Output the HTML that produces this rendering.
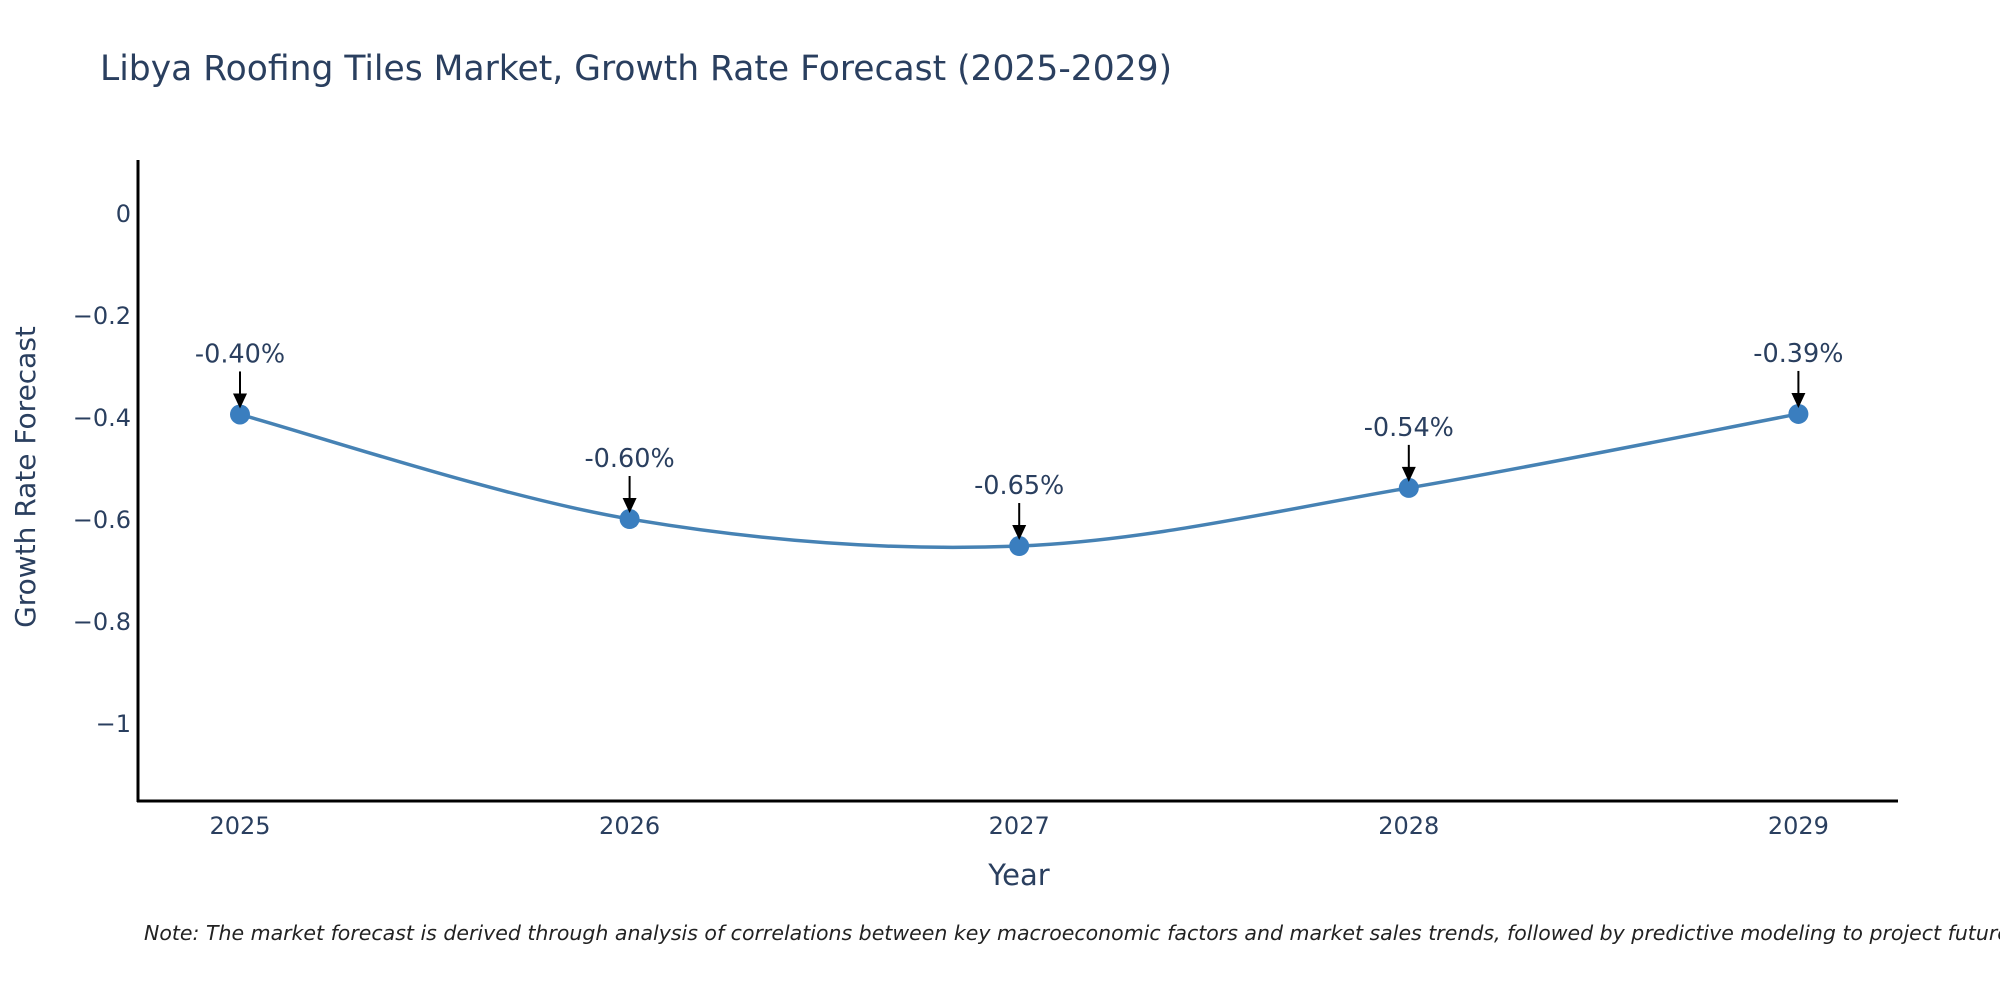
<!DOCTYPE html>
<html><head><meta charset="utf-8"><style>
html,body{margin:0;padding:0;background:#fff;width:2000px;height:1000px;overflow:hidden}
svg text{font-family:"DejaVu Sans","Liberation Sans",sans-serif}
</style></head><body>
<svg id="chart" width="2000" height="1000" xmlns="http://www.w3.org/2000/svg">
<text x="100" y="80" font-size="34.5" fill="#2a3f5f">Libya Roofing Tiles Market, Growth Rate Forecast (2025-2029)</text>
<g id="yticks"></g><g id="xticks"></g>
<line x1="138" y1="160" x2="138" y2="802" stroke="#000" stroke-width="3"/>
<line x1="137" y1="801" x2="1898" y2="801" stroke="#000" stroke-width="3"/>
<path id="line" fill="none" stroke="#4682b4" stroke-width="3.5"/>
<g id="marks"></g><g id="ann"></g>
<text x="1019" y="885" font-size="29" fill="#2a3f5f" text-anchor="middle">Year</text>
<text transform="translate(35,477) rotate(-90)" font-size="28" fill="#2a3f5f" text-anchor="middle">Growth Rate Forecast</text>
<text x="144" y="940" font-size="20.5" font-style="italic" fill="#222">Note: The market forecast is derived through analysis of correlations between key macroeconomic factors and market sales trends, followed by predictive modeling to project future sales.</text>
</svg>
<script>
const years=[2025,2026,2027,2028,2029];
const values=[-0.395,-0.600,-0.653,-0.539,-0.394];
const labels=["-0.40%","-0.60%","-0.65%","-0.54%","-0.39%"];
const yTicks=[0,-0.2,-0.4,-0.6,-0.8,-1];
const yTickLabels=["0","\u22120.2","\u22120.4","\u22120.6","\u22120.8","\u22121"];
const NS="http://www.w3.org/2000/svg";
const xs=i=>240+i*389.6;
const ys=v=>213-v*510;
function mk(t,a,p){const e=document.createElementNS(NS,t);for(const k in a)e.setAttribute(k,a[k]);p.appendChild(e);return e;}
const yt=document.getElementById('yticks');
yTicks.forEach((v,i)=>{const t=mk('text',{x:131,y:ys(v)+9,'font-size':24,fill:'#2a3f5f','text-anchor':'end'},yt);t.textContent=yTickLabels[i];

});
const xt=document.getElementById('xticks');
years.forEach((y,i)=>{const t=mk('text',{x:xs(i),y:834,'font-size':24,fill:'#2a3f5f','text-anchor':'middle'},xt);t.textContent=y;

});
const P=values.map((v,i)=>[xs(i),ys(v)]);
let d='M'+P[0][0]+','+P[0][1];
for(let i=0;i<P.length-1;i++){const p0=P[Math.max(i-1,0)],p1=P[i],p2=P[i+1],p3=P[Math.min(i+2,P.length-1)];const k=1/6;
d+=' C'+(p1[0]+(p2[0]-p0[0])*k)+','+(p1[1]+(p2[1]-p0[1])*k)+' '+(p2[0]-(p3[0]-p1[0])*k)+','+(p2[1]-(p3[1]-p1[1])*k)+' '+p2[0]+','+p2[1];}
document.getElementById('line').setAttribute('d',d);
const mg=document.getElementById('marks'),ag=document.getElementById('ann');
P.forEach((p,i)=>{const c=mk('circle',{cx:p[0],cy:p[1],r:10,fill:'#3a7ebf'},mg);


const t=mk('text',{x:p[0],y:p[1]-52,'font-size':25.5,fill:'#2a3f5f','text-anchor':'middle'},ag);t.textContent=labels[i];


const l=mk('line',{x1:p[0],y1:p[1]-43,x2:p[0],y2:p[1]-20,stroke:'#000','stroke-width':2},ag);


const h=mk('polygon',{points:(p[0]-7)+','+(p[1]-21)+' '+(p[0]+7)+','+(p[1]-21)+' '+p[0]+','+(p[1]-6),fill:'#000'},ag);

});
</script>
</body></html>
